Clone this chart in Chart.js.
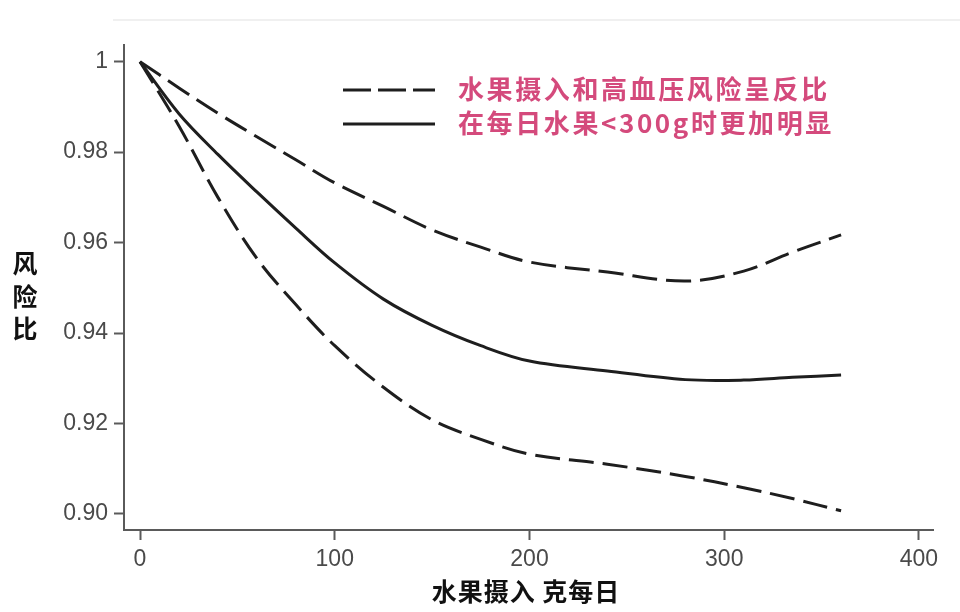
<!DOCTYPE html>
<html>
<head>
<meta charset="utf-8">
<script src="https://cdn.jsdelivr.net/npm/chart.js@4/dist/chart.umd.min.js"></script>
<style>
  html, body { margin: 0; padding: 0; background: #ffffff; }
  canvas { display: block; }
</style>
</head>
<body>
<canvas id="c" width="960" height="612"></canvas>
<script>
// ---- data ----
const xValues   = [0, 20, 40, 60, 80, 100, 125, 150, 175, 200, 240, 280, 310, 335, 360];
const hrUpper   = [1.0, 0.9942, 0.9886, 0.9834, 0.9783, 0.9732, 0.9680, 0.9628, 0.9590, 0.9557, 0.9535, 0.9515, 0.9537, 0.9579, 0.9617];
const hrCentral = [1.0, 0.9885, 0.9795, 0.9712, 0.9632, 0.9555, 0.9475, 0.9417, 0.9372, 0.9338, 0.9316, 0.9297, 0.9296, 0.9302, 0.9307];
const hrLower   = [1.0, 0.9858, 0.9700, 0.9565, 0.9463, 0.9372, 0.9280, 0.9208, 0.9165, 0.9132, 0.9110, 0.9083, 0.9058, 0.9034, 0.9007];
const xTicks = [0, 100, 200, 300, 400];
const yTicks = [0.90, 0.92, 0.94, 0.96, 0.98, 1];
const legendLabels = ['水果摄入和高血压风险呈反比', '在每日水果<300g时更加明显'];
const xTitle = '水果摄入 克每日';
const yTitle = '风险比';

const LINE = '#1e1e1e';
const AXIS = '#5a5a5a';
const PINK = '#d44a7c';
const DASH = [25, 9];
const CJK = '"Noto Sans CJK SC", "Noto Sans", sans-serif';
const TICKFONT = { family: '"Liberation Sans", Arial, sans-serif', size: 23 };

const toPts = arr => xValues.map((x, i) => ({ x: x, y: arr[i] }));

const overlay = {
  id: 'overlay',
  beforeDraw(chart) {
    const ctx = chart.ctx;
    ctx.save();
    ctx.fillStyle = '#ffffff';
    ctx.fillRect(0, 0, chart.width, chart.height);
    ctx.strokeStyle = '#f0f0f0';
    ctx.lineWidth = 2;
    ctx.beginPath();
    ctx.moveTo(113, 20);
    ctx.lineTo(960, 20);
    ctx.stroke();
    ctx.restore();
  },
  afterDraw(chart) {
    const ctx = chart.ctx;
    ctx.save();
    // legend samples
    ctx.strokeStyle = LINE;
    ctx.lineWidth = 3;
    ctx.setLineDash([28, 7]);
    ctx.beginPath(); ctx.moveTo(343, 90); ctx.lineTo(435, 90); ctx.stroke();
    ctx.setLineDash([]);
    ctx.beginPath(); ctx.moveTo(343, 124); ctx.lineTo(435, 124); ctx.stroke();
    // legend text
    ctx.fillStyle = PINK;
    ctx.font = 'bold 26px ' + CJK;
    ctx.textBaseline = 'middle';
    ctx.textAlign = 'left';
    ctx.letterSpacing = '2.6px';
    ctx.fillText(legendLabels[0], 458, 89);
    ctx.fillText(legendLabels[1], 458, 123.5);
    // y title (stacked characters)
    ctx.fillStyle = '#111111';
    ctx.letterSpacing = '0px';
    ctx.font = 'bold 25px ' + CJK;
    ctx.textAlign = 'center';
    const ys = [263, 296, 328];
    Array.from(yTitle).forEach((ch, i) => ctx.fillText(ch, 25, ys[i]));
    // x title
    ctx.letterSpacing = '1px';
    ctx.fillText(xTitle, 526, 591);
    ctx.restore();
  }
};

new Chart(document.getElementById('c'), {
  type: 'line',
  data: {
    datasets: [
      { label: 'upper', data: toPts(hrUpper), borderColor: LINE, borderWidth: 3, borderDash: DASH, pointRadius: 0, fill: false, tension: 0.35 },
      { label: 'central', data: toPts(hrCentral), borderColor: LINE, borderWidth: 3, pointRadius: 0, fill: false, tension: 0.35 },
      { label: 'lower', data: toPts(hrLower), borderColor: LINE, borderWidth: 3, borderDash: DASH, pointRadius: 0, fill: false, tension: 0.35 }
    ]
  },
  options: {
    responsive: false,
    animation: false,
    devicePixelRatio: 1,
    layout: { padding: { top: 45, right: 27, left: 0, bottom: 0 } },
    plugins: { legend: { display: false }, tooltip: { enabled: false }, title: { display: false } },
    scales: {
      x: {
        type: 'linear',
        min: -8.22,
        max: 407.2,
        afterBuildTicks: s => { s.ticks = xTicks.map(v => ({ value: v })); },
        afterFit: s => { s.height = 82; },
        grid: { drawOnChartArea: false, drawTicks: true, tickLength: 10, tickColor: AXIS, tickWidth: 2 },
        border: { display: true, color: AXIS, width: 2 },
        ticks: {
          font: TICKFONT,
          color: '#4a4a4a',
          padding: 6,
          maxRotation: 0,
          autoSkip: false,
          callback: v => String(v)
        }
      },
      y: {
        type: 'linear',
        min: 0.89645,
        max: 1.00369,
        afterBuildTicks: s => { s.ticks = yTicks.map(v => ({ value: v })); },
        afterFit: s => { s.width = 124; },
        grid: { drawOnChartArea: false, drawTicks: true, tickLength: 10, tickColor: AXIS, tickWidth: 2 },
        border: { display: true, color: AXIS, width: 2 },
        ticks: {
          font: TICKFONT,
          color: '#4a4a4a',
          padding: 6,
          autoSkip: false,
          callback: v => (v === 1 ? '1' : v.toFixed(2))
        }
      }
    }
  },
  plugins: [overlay]
});
</script>
</body>
</html>
